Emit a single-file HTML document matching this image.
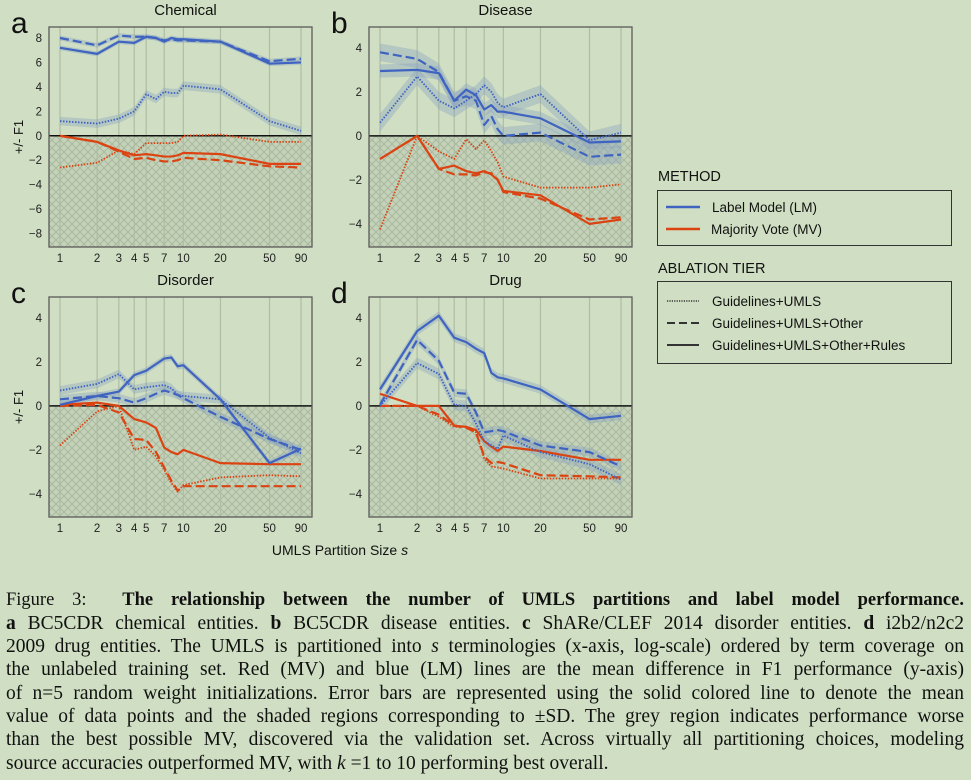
<!DOCTYPE html>
<html><head><meta charset="utf-8">
<style>
body{margin:0;background:#d0dfc3;width:971px;height:780px;overflow:hidden;position:relative;font-family:"Liberation Sans",sans-serif}
svg{position:absolute;left:0;top:0}
.cap{position:absolute;left:6px;width:958px;font-family:"Liberation Serif",serif;font-size:19.5px;color:#111;text-align:justify;text-align-last:justify;white-space:nowrap;line-height:20px}
</style></head><body>
<svg id="fig" width="971" height="580">
<defs>
<pattern id="hatch" width="8" height="8" patternUnits="userSpaceOnUse">
<rect width="8" height="8" fill="#c3d2b8"/>
<path d="M0,0L8,8M8,0L0,8" stroke="#a5b59a" stroke-width="0.8"/>
</pattern>
</defs>
</svg>
<div class="cap" style="top:590px;font-size:18.5px">Figure 3: &nbsp;<b>The relationship between the number of UMLS partitions and label model performance.</b></div>
<div class="cap" style="top:614px"><b>a</b> BC5CDR chemical entities. <b>b</b> BC5CDR disease entities. <b>c</b> ShARe/CLEF 2014 disorder entities. <b>d</b> i2b2/n2c2</div>
<div class="cap" style="top:637px">2009 drug entities. The UMLS is partitioned into <i>s</i> terminologies (x-axis, log-scale) ordered by term coverage on</div>
<div class="cap" style="top:660px">the unlabeled training set. Red (MV) and blue (LM) lines are the mean difference in F1 performance (y-axis)</div>
<div class="cap" style="top:684px">of n=5 random weight initializations. Error bars are represented using the solid colored line to denote the mean</div>
<div class="cap" style="top:707px">value of data points and the shaded regions corresponding to ±SD. The grey region indicates performance worse</div>
<div class="cap" style="top:730px">than the best possible MV, discovered via the validation set. Across virtually all partitioning choices, modeling</div>
<div class="cap" style="top:754px;text-align-last:left">source accuracies outperformed MV, with <i>k</i> =1 to 10 performing best overall.</div>
<script>
const xs=[1,2,3,4,5,6,7,8,9,10,20,50,90];
const xTicks=[1,2,3,4,5,7,10,20,50,90];
const titles=["Chemical","Disease","Disorder","Drug"];
const letters=["a","b","c","d"];
const yTicksA=[8,6,4,2,0,-2,-4,-6,-8];
const yTicksB=[4,2,0,-2,-4];
// panel a
const aLMsolid=[7.2,6.7,7.7,7.6,8.1,8.0,7.7,8.0,7.9,7.9,7.7,5.9,6.0];
const aLMdash=[8.0,7.4,8.2,8.1,8.1,8.0,7.8,7.9,7.8,7.8,7.7,6.1,6.3];
const aLMdot=[1.2,1.0,1.4,2.0,3.4,3.0,3.6,3.5,3.5,4.1,3.8,1.2,0.4];
const aMVsolid=[0,-0.5,-1.2,-1.6,-1.5,-1.6,-1.7,-1.7,-1.6,-1.4,-1.5,-2.3,-2.3];
const aMVdash=[0,-0.5,-1.3,-1.9,-1.8,-2.0,-2.1,-2.1,-2.0,-1.8,-2.0,-2.5,-2.6];
const aMVdot=[-2.6,-2.2,-1.2,-1.5,-0.6,-0.6,-0.6,-0.6,-0.5,0,0.1,-0.5,-0.5];
// panel b
const bLMsolid=[2.95,3.0,2.85,1.6,2.1,1.85,1.2,1.4,1.1,1.1,0.8,-0.3,-0.25];
const bLMdash=[3.8,3.5,2.9,1.6,1.8,1.6,0.5,0.9,0.3,0.0,0.15,-0.95,-0.85];
const bLMdot=[0.6,2.7,1.6,1.25,1.6,1.9,2.3,2.0,1.5,1.3,1.9,-0.2,0.15];
const bMVsolid=[-1.05,0,-1.5,-1.35,-1.6,-1.7,-1.6,-1.75,-2.0,-2.5,-2.7,-4.0,-3.8];
const bMVdash=[-1.05,0,-1.5,-1.75,-1.75,-1.8,-1.65,-1.7,-2.0,-2.55,-2.85,-3.8,-3.7];
const bMVdot=[-4.25,0,-0.7,-1.05,-0.15,-0.6,-0.2,-0.7,-1.2,-1.85,-2.35,-2.35,-2.2];
// panel c
const cLMsolid=[0.05,0.45,0.65,1.4,1.6,1.9,2.15,2.2,1.8,1.85,0.3,-2.6,-1.95];
const cLMdash=[0.3,0.45,0.35,0.15,0.35,0.55,0.7,0.6,0.5,0.35,-0.5,-1.5,-2.0];
const cLMdot=[0.7,1.0,1.45,0.75,0.85,0.9,0.95,0.8,0.5,0.45,0.3,-1.45,-2.15];
const cMVsolid=[0.05,0.15,0,-0.6,-0.75,-1.0,-1.9,-2.1,-2.2,-2.0,-2.6,-2.65,-2.65];
const cMVdash=[0,0.05,-0.3,-1.5,-1.55,-2.1,-2.8,-3.4,-3.85,-3.65,-3.65,-3.65,-3.65];
const cMVdot=[-1.8,-0.25,0,-2.0,-1.85,-2.3,-2.9,-3.5,-3.9,-3.6,-3.25,-3.15,-3.2];
// panel d
const dLMsolid=[0.75,3.4,4.1,3.1,2.9,2.6,2.4,1.5,1.3,1.25,0.75,-0.6,-0.45];
const dLMdash=[0.05,3.0,2.05,0.6,0.55,-0.3,-1.2,-1.15,-1.1,-1.15,-1.8,-2.1,-2.75];
const dLMdot=[0,1.95,1.45,0.05,0.0,-0.8,-1.6,-1.8,-1.95,-1.35,-2.1,-2.65,-3.35];
const dMVsolid=[0.55,0,0,-0.9,-0.95,-1.1,-1.6,-1.85,-2.05,-1.85,-2.05,-2.45,-2.45];
const dMVdash=[0,0,-0.4,-0.9,-1.0,-1.2,-2.3,-2.6,-2.55,-2.6,-3.15,-3.2,-3.25];
const dMVdot=[0,0,-0.5,-0.95,-0.95,-1.2,-2.4,-2.75,-2.8,-2.85,-3.3,-3.3,-3.3];
// LM standard deviations per series (solid, dash, dot)
const aSD=[0.2,0.2,0.35];
const bSD=[0.3,0.4,0.4];
const cSD=[0.15,0.2,0.2];
const dSD=[0.2,0.2,0.25];

const NS="http://www.w3.org/2000/svg";
const svg=document.getElementById('fig');
function el(t,a,p){const e=document.createElementNS(NS,t);for(const k in a)e.setAttribute(k,a[k]);(p||svg).appendChild(e);return e;}
const BLUE="#3f63c0",RED="#db4412";
const dashes={solid:"",dash:"9,4",dot:"1.5,1.5"};
const panels=[
 {x:49,y:27,ymax:8.9,ymin:-9.1,yt:yTicksA,lm:[aLMsolid,aLMdash,aLMdot],mv:[aMVsolid,aMVdash,aMVdot],sd:aSD},
 {x:369,y:27,ymax:4.95,ymin:-5.05,yt:yTicksB,lm:[bLMsolid,bLMdash,bLMdot],mv:[bMVsolid,bMVdash,bMVdot],sd:bSD},
 {x:49,y:297,ymax:4.95,ymin:-5.05,yt:yTicksB,lm:[cLMsolid,cLMdash,cLMdot],mv:[cMVsolid,cMVdash,cMVdot],sd:cSD},
 {x:369,y:297,ymax:4.95,ymin:-5.05,yt:yTicksB,lm:[dLMsolid,dLMdash,dLMdot],mv:[dMVsolid,dMVdash,dMVdot],sd:dSD}];
const W=263,H=220;
panels.forEach((p,i)=>{
 const g=el('g',{});
 
 
 const sx=v=>p.x+11+Math.log10(v)/Math.log10(90)*241;
 const sy=v=>p.y+(p.ymax-v)/(p.ymax-p.ymin)*H;
 const y0=sy(0);
 const hr=el('rect',{x:p.x,y:y0,width:W,height:p.y+H-y0,fill:'url(#hatch)'},g);
 
 
 xTicks.forEach(t=>{
  const l=el('line',{x1:sx(t),x2:sx(t),y1:p.y,y2:p.y+H,stroke:'#aebda3','stroke-width':1.2},g);
  
  
  const tx=el('text',{x:sx(t),y:p.y+H+15,'font-size':11.5,'text-anchor':'middle',fill:'#222'},g);
  tx.textContent=t;
  
  
 });
 p.yt.forEach(t=>{
  const tx=el('text',{x:p.x-7,y:sy(t)+4,'font-size':11.5,'text-anchor':'end',fill:'#222'},g);
  tx.textContent=t<0?'\u2212'+(-t):t;
  
  
 });
 const kinds=['solid','dash','dot'];
 p.lm.forEach((s,j)=>{
  const sd=p.sd[j];
  let d='M'+xs.map((x,k)=>sx(x)+','+sy(s[k]+sd)).join('L')+'L'+xs.slice().reverse().map((x,k)=>sx(x)+','+sy(s[xs.length-1-k]-sd)).join('L')+'Z';
  const b=el('path',{d:d,fill:'#8aa3bf',opacity:0.4},g);
  
  
 });
 const zl=el('line',{x1:p.x,x2:p.x+W,y1:y0,y2:y0,stroke:'#111','stroke-width':1.5},g);
 
 
 [[p.mv,RED,'mv'],[p.lm,BLUE,'lm']].forEach(([set,col,nm])=>{
  set.forEach((s,j)=>{
   const d='M'+xs.map((x,k)=>sx(x)+','+sy(s[k])).join('L');
   const pa=el('path',{d:d,fill:'none',stroke:col,'stroke-width':j==2?1.8:2.2,'stroke-dasharray':dashes[kinds[j]],'stroke-linejoin':'round'},g);
   
   
  });
 });
 const bx=el('rect',{x:p.x,y:p.y,width:W,height:H,fill:'none',stroke:'#5a5a5a','stroke-width':1.3},g);
 
 
 const tt=el('text',{x:p.x+W/2+5,y:p.y-12,'font-size':15,'text-anchor':'middle',fill:'#111'},g);
 tt.textContent=titles[i];
 
 
 const lt=el('text',{x:p.x-38,y:p.y+6,'font-size':30,fill:'#111'},g);
 lt.textContent=letters[i];
 
 
 if(i%2==0){
  const yl=el('text',{x:0,y:0,'font-size':13,'text-anchor':'middle',fill:'#111',transform:'translate(23,'+(p.y+110)+') rotate(-90)'},g);
  yl.textContent='+/- F1';
  
  
 }
});
const xl=el('text',{x:340,y:555,'font-size':14,'text-anchor':'middle',fill:'#111'});
xl.innerHTML='UMLS Partition Size <tspan font-style="italic">s</tspan>';


// legend
const lg=el('g',{});


function txt(x,y,s,size,nm){const t=el('text',{x:x,y:y,'font-size':size,fill:'#111'},lg);t.textContent=s;return t;}
txt(658,181,'METHOD',14.5,'legend-method-heading');
el('rect',{x:657.5,y:190.5,width:294,height:55,fill:'none',stroke:'#333','stroke-width':1},lg);
el('line',{x1:666,x2:700,y1:207,y2:207,stroke:BLUE,'stroke-width':2.5},lg);
txt(712,212,'Label Model (LM)',13.5,'legend-entry-lm');
el('line',{x1:666,x2:700,y1:229,y2:229,stroke:RED,'stroke-width':2.5},lg);
txt(711,234,'Majority Vote (MV)',13.5,'legend-entry-mv');
txt(658,273,'ABLATION TIER',14.5,'legend-tier-heading');
el('rect',{x:657.5,y:281.5,width:294,height:82,fill:'none',stroke:'#333','stroke-width':1},lg);
el('line',{x1:667,x2:699,y1:301,y2:301,stroke:'#333','stroke-width':1.5,'stroke-dasharray':'1.2,1.2'},lg);
txt(712,306,'Guidelines+UMLS',13.5,'legend-entry-guidelines-umls');
el('line',{x1:667,x2:699,y1:323,y2:323,stroke:'#333','stroke-width':2,'stroke-dasharray':'8,4'},lg);
txt(712,328,'Guidelines+UMLS+Other',13.5,'legend-entry-guidelines-umls-other');
el('line',{x1:667,x2:699,y1:345,y2:345,stroke:'#333','stroke-width':2},lg);
txt(712,350,'Guidelines+UMLS+Other+Rules',13.5,'legend-entry-guidelines-umls-other-rules');
</script>
</body></html>
